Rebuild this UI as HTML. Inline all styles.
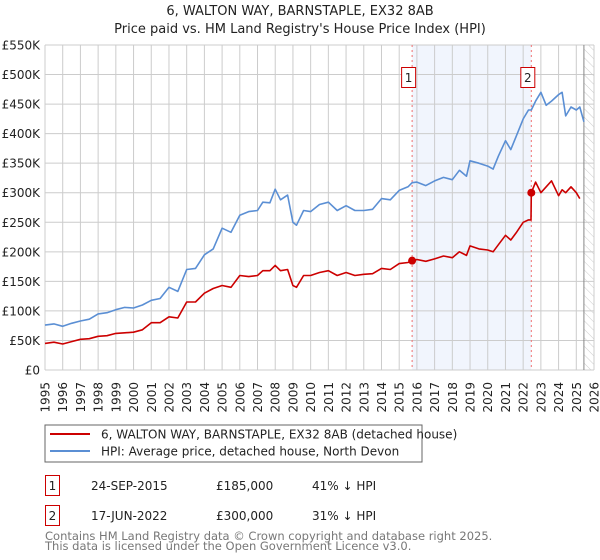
<!DOCTYPE html>
<html><head><meta charset="utf-8"><style>
body{margin:0;background:#fff;width:600px;height:560px;overflow:hidden;font-family:"DejaVu Sans","Liberation Sans",sans-serif;}
svg{display:block}
</style></head><body>
<svg id="c" width="600" height="560" xmlns="http://www.w3.org/2000/svg">
<defs><pattern id="hatch" width="6" height="6" patternUnits="userSpaceOnUse" patternTransform="rotate(-45)"><line x1="0" y1="0" x2="0" y2="6" stroke="#ccc" stroke-width="1"/></pattern></defs>
<text x="300" y="15" text-anchor="middle" font-size="13" fill="#222">6, WALTON WAY, BARNSTAPLE, EX32 8AB</text>
<text x="300" y="33" text-anchor="middle" font-size="13" fill="#222">Price paid vs. HM Land Registry's House Price Index (HPI)</text>
<g id="grid"></g><g id="marks"></g><g id="axes"></g>
<rect x="45" y="425" width="377" height="37" fill="#fff" stroke="#666"/>
<line x1="50" y1="434" x2="90" y2="434" stroke="#cc0000" stroke-width="2"/>
<text x="101" y="438.5" font-size="12" fill="#222">6, WALTON WAY, BARNSTAPLE, EX32 8AB (detached house)</text>
<line x1="50" y1="451" x2="90" y2="451" stroke="#5b8fd4" stroke-width="2"/>
<text x="101" y="455.5" font-size="12" fill="#222">HPI: Average price, detached house, North Devon</text>
<g>
<rect x="45.5" y="475.5" width="14" height="20" fill="none" stroke="#cc0000"/>
<text x="52.5" y="490" text-anchor="middle" font-size="12" fill="#222">1</text>
<text x="91" y="490" font-size="12" fill="#222">24-SEP-2015</text>
<text x="216" y="490" font-size="12" fill="#222">£185,000</text>
<text x="312" y="490" font-size="12" fill="#222">41% ↓ HPI</text></g>
<g>
<rect x="45.5" y="505.5" width="14" height="20" fill="none" stroke="#cc0000"/>
<text x="52.5" y="520" text-anchor="middle" font-size="12" fill="#222">2</text>
<text x="91" y="520" font-size="12" fill="#222">17-JUN-2022</text>
<text x="216" y="520" font-size="12" fill="#222">£300,000</text>
<text x="312" y="520" font-size="12" fill="#222">31% ↓ HPI</text></g>
<text x="45" y="540" font-size="11.5" fill="#777">Contains HM Land Registry data © Crown copyright and database right 2025.</text>
<text x="45" y="550" font-size="11.5" fill="#777">This data is licensed under the Open Government Licence v3.0.</text>
</svg>
<script>
const hpiYears=[1995,1995.5,1996,1996.5,1997,1997.5,1998,1998.5,1999,1999.5,2000,2000.5,2001,2001.5,2002,2002.5,2003,2003.5,2004,2004.5,2005,2005.5,2006,2006.5,2007,2007.3,2007.7,2008,2008.3,2008.7,2009,2009.2,2009.6,2010,2010.5,2011,2011.5,2012,2012.5,2013,2013.5,2014,2014.5,2015,2015.5,2015.73,2016,2016.5,2017,2017.5,2018,2018.4,2018.8,2019,2019.5,2020,2020.3,2020.6,2021,2021.3,2021.6,2022,2022.3,2022.46,2022.7,2023,2023.3,2023.6,2024,2024.2,2024.4,2024.7,2025,2025.2,2025.43];
const hpiValues=[76,78,74,79,83,86,95,97,102,106,105,110,118,121,140,133,170,172,195,205,240,233,262,268,270,284,283,306,288,296,250,245,270,268,280,284,270,278,270,270,272,290,288,304,310,317,318,312,320,326,322,338,328,354,350,345,340,362,388,373,395,425,440,440,455,470,448,455,466,470,430,445,440,445,420];
const saleYears=[2015.73,2022.46];
const saleValues=[185,300];
const ppYears=[1995,1995.5,1996,1996.5,1997,1997.5,1998,1998.5,1999,1999.5,2000,2000.5,2001,2001.5,2002,2002.5,2003,2003.5,2004,2004.5,2005,2005.5,2006,2006.5,2007,2007.3,2007.7,2008,2008.3,2008.7,2009,2009.2,2009.6,2010,2010.5,2011,2011.5,2012,2012.5,2013,2013.5,2014,2014.5,2015,2015.5,2015.73,2016,2016.5,2017,2017.5,2018,2018.4,2018.8,2019,2019.5,2020,2020.3,2020.6,2021,2021.3,2021.6,2022,2022.3,2022.44,2022.46,2022.7,2023,2023.3,2023.6,2024,2024.2,2024.4,2024.7,2025,2025.2,2025.43];
const ppValues=[45,47,44,48,52,53,57,58,62,63,64,68,80,80,90,88,115,115,130,138,143,140,160,158,160,168,168,177,168,170,143,140,160,160,165,168,160,165,160,162,163,172,170,180,182,185,187,184,188,193,190,200,194,210,205,203,200,212,228,220,232,250,254,254,300,318,300,310,320,295,305,300,310,300,290];
const yTicks=[0,50,100,150,200,250,300,350,400,450,500,550];
const yTickLabels=["£0","£50K","£100K","£150K","£200K","£250K","£300K","£350K","£400K","£450K","£500K","£550K"];
const xTicks=[1995,1996,1997,1998,1999,2000,2001,2002,2003,2004,2005,2006,2007,2008,2009,2010,2011,2012,2013,2014,2015,2016,2017,2018,2019,2020,2021,2022,2023,2024,2025,2026];
const NS="http://www.w3.org/2000/svg";
const X0=45,X1=594,Y0=370,Y1=45;
const xs=y=>X0+(y-1995)/(2026-1995)*(X1-X0);
const ys=v=>Y0-v/550*(Y0-Y1);
function mk(tag,attrs,parent){const e=document.createElementNS(NS,tag);for(const k in attrs)e.setAttribute(k,attrs[k]);parent.appendChild(e);return e;}
const grid=document.getElementById('grid'),marks=document.getElementById('marks'),axes=document.getElementById('axes');
mk('rect',{x:X0,y:Y1,width:X1-X0,height:Y0-Y1,fill:'#fff'},grid);
let sh=mk('rect',{x:xs(saleYears[0]),y:Y1,width:xs(saleYears[1])-xs(saleYears[0]),height:Y0-Y1,fill:'#eef3fc',opacity:0.8},grid);


let ht=mk('rect',{x:xs(2025.43),y:Y1,width:X1-xs(2025.43),height:Y0-Y1,fill:'url(#hatch)'},grid);


xTicks.forEach(t=>{const l=mk('line',{x1:xs(t),x2:xs(t),y1:Y1,y2:Y0,stroke:'#ccc'},grid);


const tx=mk('text',{x:0,y:0,'font-size':12,fill:'#222','text-anchor':'end',transform:`translate(${xs(t)+4.5},382) rotate(-90)`},axes);tx.textContent=t;

});
yTicks.forEach((t,i)=>{const l=mk('line',{x1:X0,x2:X1,y1:ys(t),y2:ys(t),stroke:'#ccc'},grid);


const tx=mk('text',{x:40,y:ys(t)+4.5,'font-size':12,fill:'#222','text-anchor':'end'},axes);tx.textContent=yTickLabels[i];

});
const hl=mk('line',{x1:xs(2025.43),x2:xs(2025.43),y1:Y1,y2:Y0,stroke:'#888'},grid);


saleYears.forEach((y,i)=>{const l=mk('line',{x1:xs(y),x2:xs(y),y1:Y1,y2:Y0,stroke:'#f07070','stroke-dasharray':'2,3'},marks);

});
function path(xa,va,color,name){const d=xa.map((y,i)=>(i?'L':'M')+xs(y).toFixed(1)+','+ys(va[i]).toFixed(1)).join('');
const p=mk('path',{d:d,fill:'none',stroke:color,'stroke-width':1.6,'stroke-linejoin':'round'},marks);

}
path(hpiYears,hpiValues,'#5b8fd4','hpi-line');
path(ppYears,ppValues,'#cc0000','property-price-line');
saleYears.forEach((y,i)=>{const c=mk('circle',{cx:xs(y),cy:ys(saleValues[i]),r:4,fill:'#cc0000'},marks);


const g=mk('g',{},marks);


mk('rect',{x:xs(y)-10.5,y:67.5,width:14,height:20,fill:'#fff',stroke:'#cc0000'},g);
const t=mk('text',{x:xs(y)-3.5,y:82,'font-size':12,fill:'#222','text-anchor':'middle'},g);t.textContent=i+1;});
</script>
</body></html>
